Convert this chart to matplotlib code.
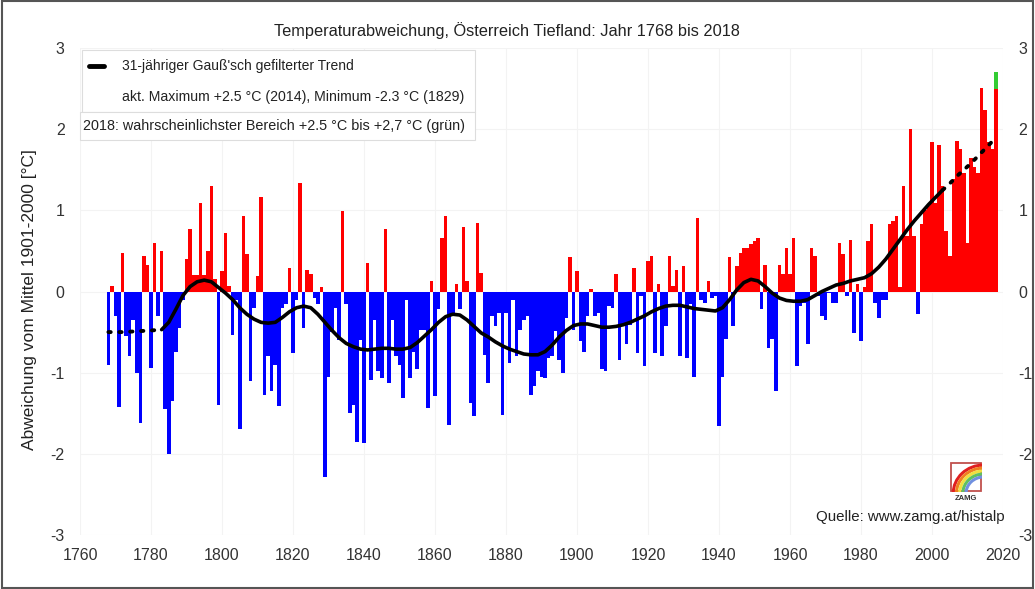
import matplotlib
matplotlib.use('Agg')
import matplotlib.pyplot as plt
import numpy as np
from matplotlib.patches import Rectangle, Arc

plt.rcParams['font.family'] = ['Liberation Sans', 'DejaVu Sans']

# ---------------- data ----------------
years = np.arange(1768, 2019)
anomaly = [
    -0.90, 0.07, -0.30, -1.42, 0.47, -0.55, -0.80, -0.35, -1.00, -1.62,
    0.44, 0.33, -0.94, 0.60, -0.30, 0.50, -1.45, -2.00, -1.35, -0.74,
    -0.45, -0.10, 0.40, 0.77, 0.20, 0.20, 1.09, 0.20, 0.50, 1.30,
    0.15, -1.40, 0.25, 0.72, 0.07, -0.53, -0.10, -1.70, 0.93, 0.46,
    -1.10, -0.20, 0.19, 1.16, -1.27, -0.80, -1.23, -0.90, -1.41, -0.20,
    -0.15, 0.29, -0.76, -0.10, 1.34, -0.45, 0.27, 0.21, -0.08, -0.15,
    0.05, -2.28, -1.05, -0.50, -0.20, -0.60, 0.99, -0.15, -1.50, -1.40,
    -1.85, -0.60, -1.87, 0.35, -1.09, -0.35, -0.98, -1.07, 0.77, -1.13,
    -0.35, -0.80, -0.90, -1.31, -0.10, -1.07, -0.75, -0.96, -0.47, -0.47,
    -1.44, 0.13, -1.29, -0.22, 0.66, 0.93, -1.64, -0.30, 0.09, -0.22,
    0.79, 0.13, -1.37, -1.54, 0.84, 0.23, -0.78, -1.13, -0.30, -0.43,
    -0.26, -1.52, -0.26, -0.88, -0.10, -0.80, -0.47, -0.35, -0.30, -1.27,
    -1.17, -0.98, -1.05, -1.07, -0.82, -0.80, -0.49, -0.84, -1.00, -0.33,
    0.42, -0.47, 0.25, -0.61, -0.74, -0.30, 0.03, -0.30, -0.26, -0.95,
    -0.98, -0.18, -0.20, 0.21, -0.84, -0.43, -0.65, -0.41, 0.29, -0.76,
    -0.06, -0.92, 0.37, 0.44, -0.76, 0.09, -0.80, -0.43, 0.44, 0.07,
    0.27, -0.80, 0.31, -0.82, -0.16, -1.05, 0.91, -0.10, -0.14, 0.13,
    -0.08, -0.06, -1.66, -1.05, -0.59, 0.42, -0.43, 0.31, 0.48, 0.54,
    0.54, 0.58, 0.62, 0.66, -0.22, 0.33, -0.70, -0.58, -1.23, 0.33,
    0.21, 0.54, 0.21, 0.66, -0.92, -0.18, -0.14, -0.65, 0.54, 0.44,
    -0.06, -0.30, -0.35, -0.02, -0.14, -0.14, 0.60, 0.46, -0.05, 0.64,
    -0.51, 0.09, -0.61, 0.05, 0.62, 0.83, -0.14, -0.33, -0.10, -0.10,
    0.83, 0.87, 0.93, 0.05, 1.30, 0.68, 2.00, 0.68, -0.28, 0.83,
    1.01, 1.05, 1.84, 1.09, 1.81, 1.30, 0.74, 0.44, 1.38, 1.86,
    1.75, 1.46, 0.60, 1.65, 1.53, 1.46, 2.51, 2.23, 1.84, 1.75,
    2.50,
]
range_2018 = [2.5, 2.7]   # most probable range for 2018 (green)

trend_years = [1768, 1772, 1776, 1780, 1783, 1785, 1787, 1789, 1791, 1793,
               1795, 1797, 1799, 1801, 1803, 1805, 1807, 1809, 1811, 1813,
               1815, 1817, 1819, 1821, 1823, 1825, 1827, 1829, 1831, 1833,
               1835, 1837, 1839, 1841, 1843, 1845, 1847, 1849, 1851, 1853,
               1855, 1857, 1859, 1861, 1863, 1865, 1867, 1869, 1871, 1873,
               1875, 1877, 1879, 1881, 1883, 1885, 1887, 1889, 1891, 1893,
               1895, 1897, 1899, 1901, 1903, 1905, 1907, 1909, 1911, 1913,
               1915, 1917, 1919, 1921, 1923, 1925, 1927, 1929, 1931, 1933,
               1935, 1937, 1939, 1941, 1943, 1945, 1947, 1949, 1951, 1953,
               1955, 1957, 1959, 1961, 1963, 1965, 1967, 1969, 1971, 1973,
               1975, 1977, 1979, 1981, 1983, 1985, 1987, 1989, 1991, 1993,
               1995, 1997, 1999, 2001, 2003, 2005, 2007, 2009, 2011, 2013,
               2015, 2017, 2018]
trend_values = [-0.50, -0.50, -0.49, -0.48, -0.47, -0.38, -0.22, -0.05, 0.06, 0.12,
                0.14, 0.12, 0.05, -0.02, -0.10, -0.20, -0.28, -0.34, -0.38, -0.39,
                -0.38, -0.32, -0.25, -0.20, -0.18, -0.20, -0.28, -0.38, -0.48, -0.57,
                -0.64, -0.68, -0.71, -0.72, -0.71, -0.70, -0.70, -0.71, -0.71, -0.69,
                -0.63, -0.55, -0.47, -0.38, -0.31, -0.28, -0.29, -0.35, -0.43, -0.51,
                -0.56, -0.62, -0.67, -0.71, -0.74, -0.77, -0.78, -0.78, -0.74, -0.66,
                -0.56, -0.48, -0.42, -0.40, -0.40, -0.42, -0.44, -0.44, -0.43, -0.41,
                -0.38, -0.34, -0.30, -0.25, -0.21, -0.18, -0.17, -0.17, -0.19, -0.21,
                -0.22, -0.23, -0.24, -0.20, -0.10, 0.02, 0.11, 0.15, 0.13, 0.06,
                -0.02, -0.08, -0.11, -0.12, -0.12, -0.10, -0.05, 0.00, 0.04, 0.08,
                0.10, 0.13, 0.15, 0.17, 0.22, 0.30, 0.40, 0.52, 0.64, 0.76,
                0.87, 0.97, 1.07, 1.16, 1.25, 1.33, 1.42, 1.50, 1.58, 1.67,
                1.76, 1.85, 1.90]
solid_start, solid_end = 1783, 2003

x_ticks = list(range(1760, 2021, 20))
y_ticks = [-3, -2, -1, 0, 1, 2, 3]

title = "Temperaturabweichung, Österreich Tiefland: Jahr 1768 bis 2018"
ylabel = "Abweichung vom Mittel 1901-2000 [°C]"
legend_line1 = "31-jähriger Gauß'sch gefilterter Trend"
legend_line2 = "akt. Maximum +2.5 °C (2014), Minimum -2.3 °C (1829)"
legend_line3 = "2018: wahrscheinlichster Bereich +2.5 °C bis +2,7 °C (grün)"
source = "Quelle: www.zamg.at/histalp"

# ---------------- figure ----------------
W, H = 1035, 589
fig = plt.figure(figsize=(W / 100, H / 100), dpi=100)
fx = lambda x: x / W
fy = lambda y: 1 - y / H

ax = fig.add_axes([fx(80), fy(535), (1003 - 80) / W, (535 - 48) / H])
anom = np.array(anomaly)
cols = np.where(anom >= 0, '#ff0000', '#0000ff')
ax.bar(years, anom, width=1.0, color=cols, linewidth=0, zorder=2)
ax.bar([2018], [range_2018[1] - range_2018[0]], bottom=range_2018[0], width=1.0,
       color='#33cc33', linewidth=0, zorder=2)

ty = np.array(trend_years)
tv = np.array(trend_values)
m_solid = (ty >= solid_start) & (ty <= solid_end)
m_left = ty <= solid_start
m_right = ty >= solid_end
ax.plot(ty[m_solid], tv[m_solid], color='black', lw=2.6, zorder=3,
        solid_capstyle='round', solid_joinstyle='round')
for m in (m_left, m_right):
    ax.plot(ty[m], tv[m], color='black', lw=2.8, zorder=3,
            linestyle=(0, (0.6, 2.2)), dash_capstyle='round')

ax.set_xlim(1760, 2020)
ax.set_ylim(-3, 3)
ax.set_xticks(x_ticks)
ax.set_yticks(y_ticks)
ax.set_yticklabels([str(v) for v in y_ticks])
ax.tick_params(axis='both', length=0, labelsize=11.5, labelcolor='#333333')
ax.tick_params(axis='y', labelright=True, pad=11)
ax.tick_params(axis='x', pad=9)
for s in ax.spines.values():
    s.set_visible(False)
ax.grid(True, color='#f3f3f3', lw=0.8, zorder=0)
ax.set_axisbelow(True)

fig.text(fx(507), fy(31), title, ha='center', va='center', fontsize=11.8, color='#222222')
fig.text(fx(30), fy(300), ylabel, ha='center', va='center', rotation=90,
         fontsize=12.5, color='#222222')

# legend boxes
fig.add_artist(Rectangle((fx(82), fy(112)), (475 - 82) / W, (112 - 50) / H,
                         transform=fig.transFigure, facecolor='white',
                         edgecolor='#dddddd', lw=0.8, zorder=4))
fig.add_artist(Rectangle((fx(80), fy(140)), (475 - 80) / W, (140 - 112) / H,
                         transform=fig.transFigure, facecolor='white',
                         edgecolor='#dddddd', lw=0.8, zorder=4))
fig.add_artist(plt.Line2D([fx(89), fx(104)], [fy(66), fy(66)], color='black',
                          lw=3.5, transform=fig.transFigure, zorder=5,
                          solid_capstyle='round'))
fig.text(fx(122), fy(66), legend_line1, ha='left', va='center', fontsize=10,
         color='#222222', zorder=6)
fig.text(fx(122), fy(97), legend_line2, ha='left', va='center', fontsize=10.2,
         color='#222222', zorder=6)
fig.text(fx(83), fy(126), legend_line3, ha='left', va='center', fontsize=10.4,
         color='#222222', zorder=6)

# ZAMG logo
lax = fig.add_axes([fx(950), fy(492), 32 / W, 30 / H])
lax.set_xlim(0, 1)
lax.set_ylim(0, 1)
lax.axis('off')
lax.add_patch(Rectangle((0.03, 0.03), 0.94, 0.94, fill=False, edgecolor='#c0504d', lw=1.3))
for r, c in zip([0.95, 0.85, 0.75, 0.65, 0.55],
                ['#e02020', '#f08020', '#f0e040', '#60c060', '#7090e0']):
    lax.add_patch(Arc((1.05, -0.05), 2 * r, 2 * r, theta1=90, theta2=180,
                      color=c, lw=2.2))
fig.text(fx(966), fy(498), "ZAMG", ha='center', va='center', fontsize=5.5,
         fontweight='bold', color='#333333')
fig.text(fx(1005), fy(517), source, ha='right', va='center', fontsize=10.8,
         color='#222222')

# outer frame
fig.add_artist(Rectangle((0.0015, 0.0015), 0.997, 0.997, transform=fig.transFigure,
                         fill=False, edgecolor='#555555', lw=1.5, zorder=10))

fig.savefig('out.png', dpi=100)
